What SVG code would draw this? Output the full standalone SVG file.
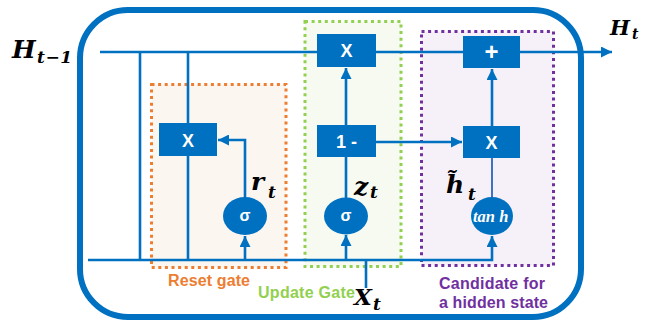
<svg xmlns="http://www.w3.org/2000/svg" width="654" height="324" viewBox="0 0 654 324">
<style>
.ln{fill:none;stroke:#0070c0;stroke-width:2.6}
.box{fill:#0070c0}
.op{fill:#fff;font-family:"Liberation Sans",Arial,sans-serif;font-weight:bold;text-anchor:middle}
.m{font-family:"DejaVu Serif","Liberation Serif",serif;font-weight:bold;font-style:italic;fill:#000}
.lab{font-family:"Liberation Sans",Arial,sans-serif;font-weight:bold;font-size:16px}
.gate{stroke-width:3;stroke-dasharray:3 3.6}
</style>
<defs>
<marker id="ah" markerUnits="userSpaceOnUse" markerWidth="12" markerHeight="11" refX="11" refY="5.5" orient="auto">
<path d="M0,0 L11,5.5 L0,11 z" fill="#0070c0"/>
</marker>
<clipPath id="tclip"><ellipse cx="492" cy="216" rx="21" ry="19"/></clipPath>
</defs>

<g id="cell">
<rect x="80" y="10" width="501" height="307" rx="48" ry="48" fill="none" stroke="#0070c0" stroke-width="6"/>
</g>

<g id="reset-gate">
<rect class="gate" x="151.5" y="84.5" width="134.5" height="183" fill="#fcf6f1" stroke="#ed7d31"/>
<text class="lab" x="168" y="286" fill="#ed7d31" textLength="82">Reset gate</text>
</g>
<g id="update-gate">
<rect class="gate" x="305" y="21.5" width="96" height="245" fill="#f6faf0" stroke="#92d050"/>
<text class="lab" x="258" y="298" fill="#92d050" textLength="97">Update Gate</text>
</g>
<g id="candidate-gate">
<rect class="gate" x="421.5" y="31.5" width="132" height="234" fill="#f6f1f9" stroke="#7030a0"/>
<text class="lab" x="439" y="289" fill="#7030a0" textLength="106">Candidate for</text>
<text class="lab" x="439" y="308" fill="#7030a0" textLength="109">a hidden state</text>
</g>

<g id="connectors">
<path class="ln" d="M100 52 H317"/>
<path class="ln" d="M376 52 H463"/>
<path class="ln" d="M520 52 H612" marker-end="url(#ah)"/>
<path class="ln" d="M140 52 V260"/>
<path class="ln" d="M188 52 V123 M188 156 V260"/>
<path class="ln" d="M245 197 V140 H218" marker-end="url(#ah)"/>
<path class="ln" d="M88 260 H492 V236" marker-end="url(#ah)"/>
<path class="ln" d="M245 260 V236" marker-end="url(#ah)"/>
<path class="ln" d="M346 260 V235" marker-end="url(#ah)"/>
<path class="ln" d="M346 198 V157"/>
<path class="ln" d="M346 125 V68" marker-end="url(#ah)"/>
<path class="ln" d="M376 142 H462" marker-end="url(#ah)"/>
<path class="ln" d="M492 197 V158" style="stroke:#3f74c4;stroke-width:2"/>
<path class="ln" d="M492 126 V69" marker-end="url(#ah)"/>
<path class="ln" d="M366 260 V288"/>
</g>

<g id="reset-mult">
<rect class="box" x="159" y="123" width="58" height="33"/>
<text class="op" x="188" y="146.5" font-size="18">X</text>
</g>
<g id="reset-sigma">
<ellipse class="box" cx="245" cy="216" rx="22" ry="19"/>
<text class="op" x="245" y="221" font-size="16">σ</text>
</g>
<g id="update-mult">
<rect class="box" x="317" y="34" width="59" height="33"/>
<text class="op" x="346.5" y="57" font-size="18">X</text>
</g>
<g id="one-minus">
<rect class="box" x="317" y="125" width="59" height="32"/>
<text class="op" x="346.5" y="148" font-size="18" xml:space="preserve">1 -</text>
</g>
<g id="update-sigma">
<ellipse class="box" cx="346" cy="216" rx="22" ry="18.5"/>
<text class="op" x="346" y="221" font-size="16">σ</text>
</g>
<g id="plus">
<rect class="box" x="463" y="36" width="57" height="32"/>
<text class="op" x="491.5" y="60" font-size="24">+</text>
</g>
<g id="cand-mult">
<rect class="box" x="463" y="126" width="57" height="32"/>
<text class="op" x="491.5" y="149" font-size="18">X</text>
</g>
<g id="tanh">
<ellipse class="box" cx="492" cy="216" rx="21" ry="19"/>
<text x="473" y="221.5" font-size="16.5" fill="#fff" font-family="Liberation Serif,serif" font-weight="bold" font-style="italic" clip-path="url(#tclip)" xml:space="preserve">tan h</text>
</g>

<g id="labels">
<text class="m" x="12" y="58" font-size="25">H</text>
<text class="m" x="37" y="63" font-size="17" textLength="35" lengthAdjust="spacing">t−1</text>
<text class="m" x="610" y="35" font-size="21">H</text>
<text class="m" x="632" y="39" font-size="14">t</text>
<text class="m" x="251" y="190" font-size="25">r</text>
<text class="m" x="268" y="198" font-size="17">t</text>
<text class="m" x="354" y="195" font-size="25">z</text>
<text class="m" x="370" y="198" font-size="17">t</text>
<text class="m" x="446" y="193" font-size="25">h̃</text>
<text class="m" x="468" y="200" font-size="17">t</text>
<text class="m" x="354" y="305" font-size="23">X</text>
<text class="m" x="373" y="310" font-size="17">t</text>
</g>
</svg>
